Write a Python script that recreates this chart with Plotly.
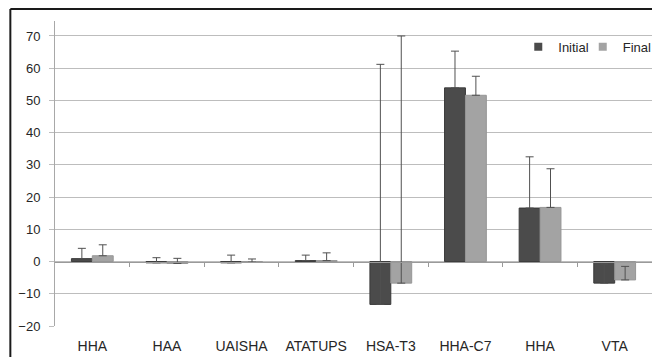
import plotly.graph_objects as go

categories = ["HHA", "HAA", "UAISHA", "ATATUPS", "HSA-T3", "HHA-C7", "HHA", "VTA"]
initial = [0.9, -0.4, -0.4, 0.3, -13.3, 53.9, 16.6, -6.7]
final = [1.8, -0.6, -0.2, 0.3, -6.7, 51.6, 16.8, -5.7]
initial_err = [3.2, 1.6, 2.4, 1.7, 74.5, 11.4, 15.9, 5.9]
final_err = [3.4, 1.6, 1.0, 2.4, 76.7, 5.9, 12.0, 4.2]
y_ticks = [-20, -10, 0, 10, 20, 30, 40, 50, 60, 70]

x = list(range(len(categories)))
c_init = "#4b4b4b"
c_final = "#a3a3a3"
err_col = "#505050"
grid = "#bdbdbd"
ymin, ymax = -20, 74.65

fig = go.Figure()
fig.add_bar(x=x, y=initial, name="Initial", marker=dict(color=c_init, line=dict(color="#3a3a3a", width=1)),
            error_y=dict(type="data", symmetric=False, array=initial_err, arrayminus=[0]*len(x),
                         color=err_col, thickness=1, width=4), showlegend=False)
fig.add_bar(x=x, y=final, name="Final", marker=dict(color=c_final, line=dict(color="#969696", width=1)),
            error_y=dict(type="data", symmetric=False, array=final_err, arrayminus=[0]*len(x),
                         color=err_col, thickness=1, width=4), showlegend=False)
# legend entries
fig.add_scatter(x=[None], y=[None], mode="markers", name="Initial", legend="legend",
                marker=dict(symbol="square", size=8, color=c_init))
fig.add_scatter(x=[None], y=[None], mode="markers", name="Final", legend="legend2",
                marker=dict(symbol="square", size=8, color=c_final))
# axis at zero with boundary ticks
fig.add_scatter(x=[None], y=[None], xaxis="x2", showlegend=False, hoverinfo="skip")

fnt = dict(family="Liberation Sans, Arial, sans-serif", size=13, color="#262626")
xfnt = dict(family="Liberation Sans, Arial, sans-serif", size=14, color="#262626")
leg = dict(orientation="h", y=0.965, xanchor="left", yanchor="top",
           font=fnt, bgcolor="rgba(0,0,0,0)", itemwidth=30)
fig.update_layout(
    width=657, height=357,
    margin=dict(l=55, r=0, t=21, b=31),
    paper_bgcolor="white", plot_bgcolor="white",
    barmode="group", bargap=0.44, bargroupgap=0,
    font=fnt,
    xaxis=dict(range=[-0.5, len(x) - 0.5], tickvals=x, ticktext=categories, showgrid=False,
               showline=False, ticks="", zeroline=False, tickfont=xfnt, ticklabelstandoff=10,
               automargin=False),
    xaxis2=dict(range=[-0.5, len(x) - 0.5], overlaying="x", anchor="free",
                position=(0 - ymin) / (ymax - ymin), side="bottom",
                showline=True, linecolor="#9a9a9a", linewidth=1,
                ticks="outside", ticklen=4, tickcolor="#9a9a9a",
                tickvals=[i + 0.5 for i in x[:-1]], showticklabels=False, showgrid=False, zeroline=False,
                automargin=False),
    yaxis=dict(range=[ymin, ymax], tickvals=y_ticks, showgrid=True, gridcolor=grid, gridwidth=1,
               showline=True, linecolor="#a8a8a8", ticks="outside", ticklen=5, tickcolor=grid,
               zeroline=False, tickfont=fnt, ticklabelstandoff=6, automargin=False),
    legend=dict(leg, x=0.776),
    legend2=dict(leg, x=0.884),
    shapes=[
        dict(type="line", xref="paper", yref="paper", x0=-0.0748, x1=1.0, y0=1.039, y1=1.039,
             line=dict(color="#1a1a1a", width=2)),
        dict(type="line", xref="paper", yref="paper", x0=-0.0748, x1=-0.0748, y0=1.039, y1=-0.11,
             line=dict(color="#1a1a1a", width=2)),
    ],
)
fig.write_html("out.html", config={"displayModeBar": False},
               post_script="document.body.style.margin='0';document.body.style.overflow='hidden';")
